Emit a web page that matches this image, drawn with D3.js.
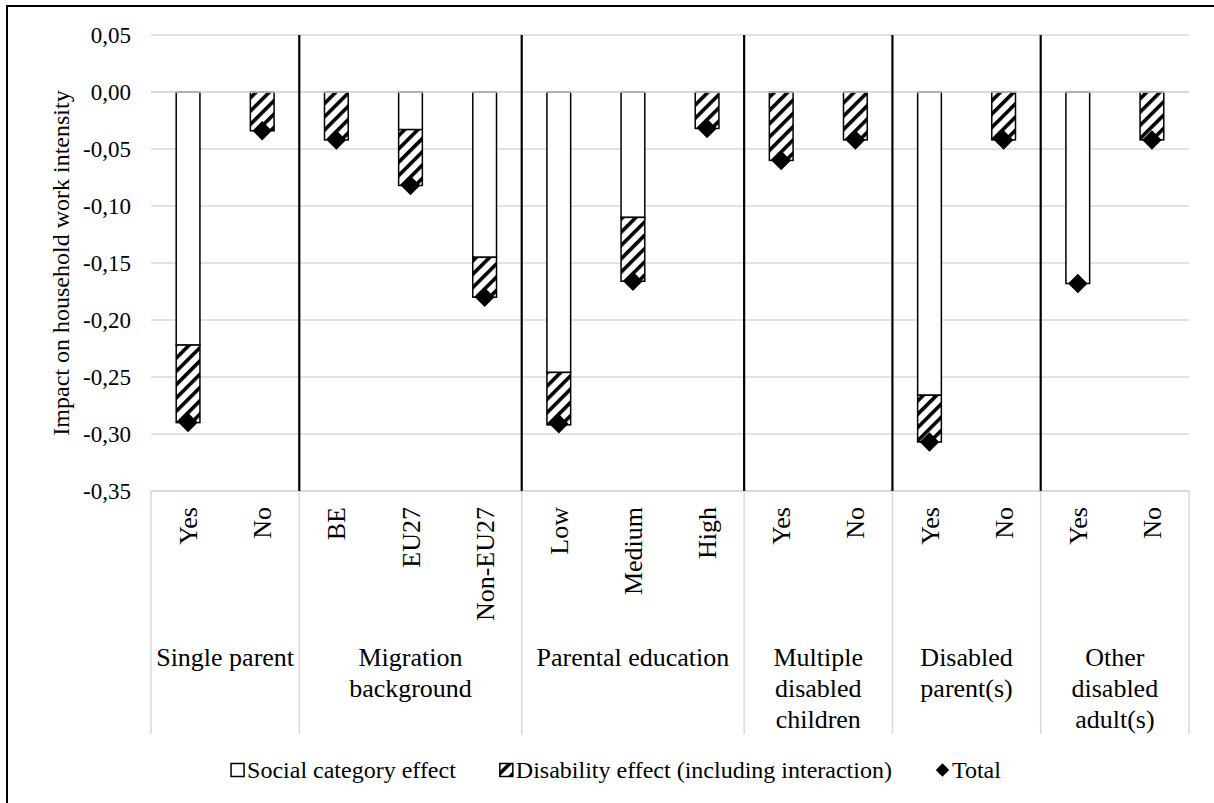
<!DOCTYPE html>
<html>
<head>
<meta charset="utf-8">
<script src="https://cdn.jsdelivr.net/npm/d3@7"></script>
<style>
body { margin: 0; background: #fff; }
text { font-family: "Liberation Serif", "Times New Roman", serif; fill: #000; }
</style>
</head>
<body>
<svg id="chart" width="1214" height="803"></svg>
<script>
// chart values
var categories = ["Yes", "No", "BE", "EU27", "Non-EU27", "Low", "Medium", "High", "Yes", "No", "Yes", "No", "Yes", "No"];
var groupNames = [["Single parent"], ["Migration", "background"], ["Parental education"],
    ["Multiple", "disabled", "children"], ["Disabled", "parent(s)"], ["Other", "disabled", "adult(s)"]];
var groupSizes = [2, 3, 3, 2, 2, 2];
var socialEffect = [-0.222, 0, 0, -0.033, -0.145, -0.246, -0.110, 0, 0, 0, -0.266, 0, -0.168, 0];
var disabilityEffect = [-0.068, -0.034, -0.042, -0.049, -0.035, -0.046, -0.056, -0.032, -0.060, -0.042, -0.041, -0.042, 0, -0.042];
var totalEffect = [-0.290, -0.034, -0.042, -0.082, -0.180, -0.291, -0.166, -0.032, -0.060, -0.042, -0.307, -0.042, -0.168, -0.042];
var yTicks = [0.05, 0, -0.05, -0.10, -0.15, -0.20, -0.25, -0.30, -0.35];
var seriesNames = ["Social category effect", "Disability effect (including interaction)", "Total"];
var yTitle = "Impact on household work intensity";

var svg = d3.select("#chart");
var plotLeft = 151, plotRight = 1189, plotTop = 35, plotBottom = 491, boxBottom = 734;

var x = d3.scaleBand()
    .domain(d3.range(categories.length))
    .range([plotLeft, plotRight])
    .padding(0);
var y = d3.scaleLinear().domain([-0.35, 0.05]).range([plotBottom, plotTop]);
var barW = x.bandwidth() * 0.32;

function edge(i) {
    return i < categories.length ? x(i) : x.range()[1];
}

// group edges
var edges = [0];
groupSizes.forEach(function(s, i) { edges.push(edges[i] + s); });

var locale = d3.formatLocale({decimal: ",", thousands: ".", grouping: [3], currency: ["", ""], minus: "-"});
var fmt = locale.format(".2f");

// hatch pattern
var defs = svg.append("defs");
defs.append("pattern")
    .attr("id", "hatch")
    .attr("patternUnits", "userSpaceOnUse")
    .attr("width", 9.4)
    .attr("height", 9.4)
    .attr("patternTransform", "rotate(45)")
    .call(function(p) {
        p.append("rect").attr("width", 9.4).attr("height", 9.4).attr("fill", "#fff");
        p.append("rect").attr("width", 3.6).attr("height", 9.4).attr("fill", "#000");
    });

// gridlines
svg.append("g").selectAll("line")
    .data(yTicks)
    .enter().append("line")
    .attr("x1", plotLeft).attr("x2", plotRight)
    .attr("y1", function(d) { return y(d); })
    .attr("y2", function(d) { return y(d); })
    .attr("stroke", "#d9d9d9")
    .attr("stroke-width", 1.5);

// category box
var box = svg.append("g").attr("stroke", "#d9d9d9").attr("stroke-width", 1.5);
box.append("line").attr("x1", plotLeft).attr("x2", plotRight).attr("y1", plotBottom).attr("y2", plotBottom);
box.selectAll(".v")
    .data(edges)
    .enter().append("line")
    .attr("x1", function(d) { return edge(d); })
    .attr("x2", function(d) { return edge(d); })
    .attr("y1", plotBottom).attr("y2", boxBottom);

// bars
var bars = svg.append("g").attr("stroke", "#000").attr("stroke-width", 1.5);
categories.forEach(function(c, i) {
    var s = socialEffect[i], d = disabilityEffect[i];
    var bx = x(i) + (x.bandwidth() - barW) / 2;
    if (s !== 0) {
        bars.append("rect")
            .attr("x", bx).attr("width", barW)
            .attr("y", y(0)).attr("height", y(s) - y(0))
            .attr("fill", "#fff");
    }
    if (d !== 0) {
        bars.append("rect")
            .attr("x", bx).attr("width", barW)
            .attr("y", y(s)).attr("height", y(s + d) - y(s))
            .attr("fill", "url(#hatch)");
    }
});

// zero line over bar tops
svg.append("line")
    .attr("x1", plotLeft).attr("x2", plotRight)
    .attr("y1", y(0)).attr("y2", y(0))
    .attr("stroke", "#d9d9d9").attr("stroke-width", 1.5);

// group separators
svg.append("g").selectAll("line")
    .data(edges.slice(1, -1))
    .enter().append("line")
    .attr("x1", function(d) { return edge(d); })
    .attr("x2", function(d) { return edge(d); })
    .attr("y1", y(0.05)).attr("y2", y(-0.35))
    .attr("stroke", "#000")
    .attr("stroke-width", 2.2);

// totals
var diamond = d3.symbol().type(d3.symbolSquare).size(190);
svg.append("g").selectAll("path")
    .data(totalEffect)
    .enter().append("path")
    .attr("d", diamond)
    .attr("transform", function(d, i) {
        return "translate(" + (x(i) + x.bandwidth() / 2) + "," + y(d) + ") rotate(45)";
    })
    .attr("fill", "#000");

// y axis
var yAxis = d3.axisLeft(y).tickValues(yTicks).tickFormat(fmt).tickSize(0).tickPadding(20);
svg.append("g")
    .attr("transform", "translate(" + plotLeft + ",0)")
    .call(yAxis)
    .call(function(g) {
        g.select(".domain").remove();
        g.selectAll("text")
            .style("font-family", '"Liberation Serif", serif')
            .style("font-size", "23px")
            .attr("fill", "#000");
    });

svg.append("text")
    .attr("transform", "translate(69," + ((plotTop + plotBottom) / 2) + ") rotate(-90)")
    .attr("text-anchor", "middle")
    .style("font-size", "24px")
    .text(yTitle);

// category labels
svg.append("g").selectAll("text")
    .data(categories)
    .enter().append("text")
    .attr("transform", function(d, i) {
        return "translate(" + (x(i) + x.bandwidth() / 2) + ",507) rotate(-90)";
    })
    .attr("text-anchor", "end")
    .attr("dy", "0.35em")
    .style("font-size", "26px")
    .text(function(d) { return d; });

// group labels
groupNames.forEach(function(lines, g) {
    var cx = (edge(edges[g]) + edge(edges[g + 1])) / 2;
    var t = svg.append("text")
        .attr("text-anchor", "middle")
        .style("font-size", "26px");
    lines.forEach(function(l, k) {
        t.append("tspan").attr("x", cx).attr("y", 666 + k * 31).text(l);
    });
});

// legend
var legend = svg.append("g");
var lx = 0, ly = 770, sw = 13;
seriesNames.forEach(function(name, i) {
    var item = legend.append("g").attr("transform", "translate(" + lx + ",0)");
    if (i === 0) {
        item.append("rect").attr("x", 0).attr("y", ly - sw / 2).attr("width", sw).attr("height", sw)
            .attr("fill", "#fff").attr("stroke", "#000").attr("stroke-width", 1.5);
    } else if (i === 1) {
        item.append("rect").attr("x", 0).attr("y", ly - sw / 2).attr("width", sw).attr("height", sw)
            .attr("fill", "url(#hatch)").attr("stroke", "#000").attr("stroke-width", 1.5);
    } else {
        item.append("path").attr("d", d3.symbol().type(d3.symbolSquare).size(90))
            .attr("transform", "translate(" + (sw / 2) + "," + ly + ") rotate(45)")
            .attr("fill", "#000");
    }
    var txt = item.append("text")
        .attr("x", sw + 3).attr("y", ly + 8)
        .style("font-size", "24px")
        .text(name);
    lx += sw + 3 + txt.node().getComputedTextLength() + 44;
});
var legendW = lx - 44;
legend.attr("transform", "translate(" + (616 - legendW / 2) + ",0)");

// chart border
svg.append("rect")
    .attr("x", 7).attr("y", 6)
    .attr("width", 1400).attr("height", 1000)
    .attr("fill", "none")
    .attr("stroke", "#000")
    .attr("stroke-width", 2);
</script>
</body>
</html>
